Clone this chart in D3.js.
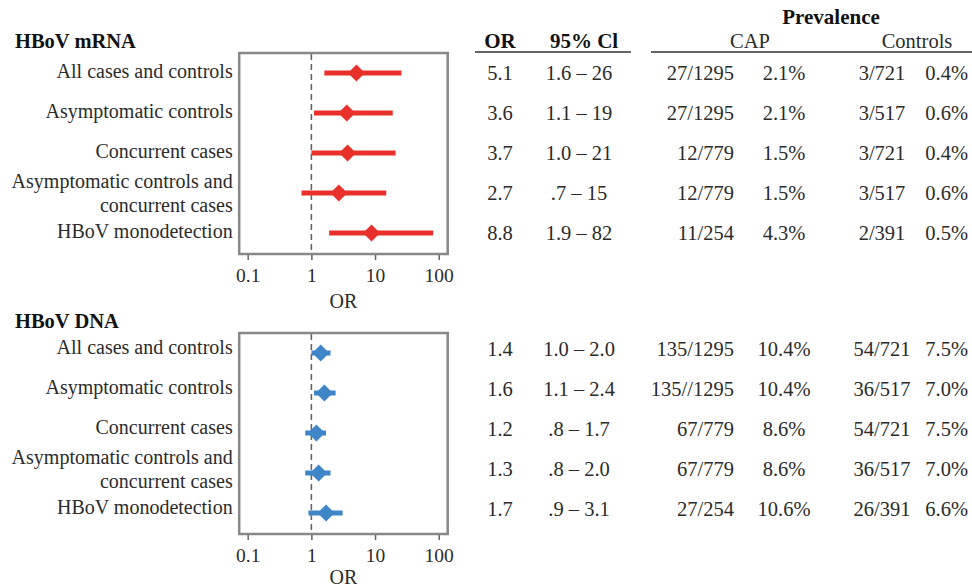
<!DOCTYPE html>
<html>
<head>
<meta charset="utf-8">
<script src="https://cdn.jsdelivr.net/npm/d3@7"></script>
<style>
body { margin: 0; background: #fff; }
text { font-family: "Liberation Serif", "Times New Roman", serif; fill: #2b2b2b; }
</style>
</head>
<body>
<svg id="chart" width="972" height="588"></svg>
<script>
// row labels (second entry = wrapped line)
var rowLabels = [
	["All cases and controls"],
	["Asymptomatic controls"],
	["Concurrent cases"],
	["Asymptomatic controls and", "concurrent cases"],
	["HBoV monodetection"]
];
var tickValues = [0.1, 1, 10, 100];

// HBoV mRNA
var mrnaOR = [5.1, 3.6, 3.7, 2.7, 8.8];
var mrnaLo = [1.6, 1.1, 1.0, 0.7, 1.9];
var mrnaHi = [26, 19, 21, 15, 82];
var mrnaORText = ["5.1", "3.6", "3.7", "2.7", "8.8"];
var mrnaCIText = ["1.6 – 26", "1.1 – 19", "1.0 – 21", ".7 – 15", "1.9 – 82"];
var mrnaCapCount = ["27/1295", "27/1295", "12/779", "12/779", "11/254"];
var mrnaCapPct = ["2.1%", "2.1%", "1.5%", "1.5%", "4.3%"];
var mrnaCtrlCount = ["3/721", "3/517", "3/721", "3/517", "2/391"];
var mrnaCtrlPct = ["0.4%", "0.6%", "0.4%", "0.6%", "0.5%"];

// HBoV DNA
var dnaOR = [1.4, 1.6, 1.2, 1.3, 1.7];
var dnaLo = [1.0, 1.1, 0.8, 0.8, 0.9];
var dnaHi = [2.0, 2.4, 1.7, 2.0, 3.1];
var dnaORText = ["1.4", "1.6", "1.2", "1.3", "1.7"];
var dnaCIText = ["1.0 – 2.0", "1.1 – 2.4", ".8 – 1.7", ".8 – 2.0", ".9 – 3.1"];
var dnaCapCount = ["135/1295", "135//1295", "67/779", "67/779", "27/254"];
var dnaCapPct = ["10.4%", "10.4%", "8.6%", "8.6%", "10.6%"];
var dnaCtrlCount = ["54/721", "36/517", "54/721", "36/517", "26/391"];
var dnaCtrlPct = ["7.5%", "7.0%", "7.5%", "7.0%", "6.6%"];

var svg = d3.select("#chart");

var x = d3.scaleLog().domain([0.1, 100]).range([247.7, 438.7]);
var boxH = 201;
var y = d3.scalePoint().domain(d3.range(5)).range([20, 180]);

// table column anchors
var colOR = 500, colCI = 579, colCapN = 734, colCapP = 784, colCtrlN = 882, colCtrlP = 968;

function drawPanel(top, title, color, or, lo, hi, orText, ciText, capN, capP, ctrlN, ctrlP, textShift, titleGap)
{
	var g = svg.append("g").attr("transform", "translate(0," + top + ")");

	g.append("text")
		.attr("x", 15).attr("y", -12)
		.attr("dy", "0.35em")
		.style("font-size", "20.5px").style("font-weight", "bold").style("fill", "#111")
		.text(title);

	var boxL = x(0.1) - 8.5, boxR = x(100) + 9;
	g.append("rect")
		.attr("x", boxL).attr("y", 0)
		.attr("width", boxR - boxL).attr("height", boxH)
		.style("fill", "none").style("stroke", "#888").style("stroke-width", 2.5);

	g.append("line")
		.attr("x1", x(1)).attr("x2", x(1))
		.attr("y1", 1).attr("y2", boxH - 1)
		.style("stroke", "#666").style("stroke-width", 1.6).style("stroke-dasharray", "6,4");

	var axis = g.append("g")
		.attr("transform", "translate(0," + (boxH + 1) + ")")
		.call(d3.axisBottom(x).tickValues(tickValues).tickFormat(function(d) { return d; }).tickSize(5).tickPadding(8));
	axis.select(".domain").remove();
	axis.selectAll(".tick line").style("stroke", "#666").style("stroke-width", 1.5);
	axis.selectAll(".tick text")
		.style("font-family", "'Liberation Serif', serif").style("font-size", "19.5px").style("fill", "#2b2b2b");

	g.append("text")
		.attr("x", (boxL + boxR) / 2).attr("y", boxH + titleGap)
		.attr("dy", "0.35em").attr("text-anchor", "middle")
		.style("font-size", "20px")
		.text("OR");

	var rows = d3.range(5);

	// labels
	var lab = g.selectAll(".rowlabel").data(rows).enter().append("text")
		.attr("class", "rowlabel")
		.attr("text-anchor", "end")
		.style("font-size", "20px");
	lab.each(function(i) {
		var lines = rowLabels[i];
		var t = d3.select(this);
		lines.forEach(function(s, k) {
			var yy = lines.length == 1 ? y(i) - 2 + textShift : y(i) - 12 + k * 24 + textShift;
			t.append("tspan").attr("x", 232.7).attr("y", yy).attr("dy", "0.35em").text(s);
		});
	});

	// CI lines
	g.selectAll(".ci").data(rows).enter().append("line")
		.attr("x1", function(i) { return x(lo[i]); })
		.attr("x2", function(i) { return x(hi[i]); })
		.attr("y1", function(i) { return y(i); })
		.attr("y2", function(i) { return y(i); })
		.style("stroke", color).style("stroke-width", 5);

	// diamonds
	g.selectAll(".pt").data(rows).enter().append("path")
		.attr("d", function(i) {
			var cx = x(or[i]), cy = y(i);
			return "M" + (cx - 8.5) + "," + cy + "L" + cx + "," + (cy - 8.5) + "L" + (cx + 8.5) + "," + cy + "L" + cx + "," + (cy + 8.5) + "Z";
		})
		.style("fill", color);

	// table
	var cols = [
		{ x: colOR, anchor: "middle", v: orText },
		{ x: colCI, anchor: "middle", v: ciText },
		{ x: colCapN, anchor: "end", v: capN },
		{ x: colCapP, anchor: "middle", v: capP },
		{ x: colCtrlN, anchor: "middle", v: ctrlN },
		{ x: colCtrlP, anchor: "end", v: ctrlP }
	];
	cols.forEach(function(c) {
		g.selectAll(null).data(rows).enter().append("text")
			.attr("x", c.x)
			.attr("y", function(i) { return y(i) + textShift; })
			.attr("dy", "0.35em")
			.attr("text-anchor", c.anchor)
			.style("font-size", "20.5px")
			.text(function(i) { return c.v[i]; });
	});
}

drawPanel(53, "HBoV mRNA", "#e8312a", mrnaOR, mrnaLo, mrnaHi, mrnaORText, mrnaCIText,
	mrnaCapCount, mrnaCapPct, mrnaCtrlCount, mrnaCtrlPct, 0, 47);
drawPanel(333, "HBoV DNA", "#3f86c8", dnaOR, dnaLo, dnaHi, dnaORText, dnaCIText,
	dnaCapCount, dnaCapPct, dnaCtrlCount, dnaCtrlPct, -4, 43);

// table header
var head = svg.append("g");
head.append("text").attr("x", 831).attr("y", 17).attr("dy", "0.35em").attr("text-anchor", "middle")
	.style("font-size", "21px").style("font-weight", "bold").style("fill", "#111").text("Prevalence");
head.append("text").attr("x", colOR).attr("y", 41).attr("dy", "0.35em").attr("text-anchor", "middle")
	.style("font-size", "21px").style("font-weight", "bold").style("fill", "#111").text("OR");
head.append("text").attr("x", 584).attr("y", 41).attr("dy", "0.35em").attr("text-anchor", "middle")
	.style("font-size", "21px").style("font-weight", "bold").style("fill", "#111").text("95% Cl");
head.append("text").attr("x", 750).attr("y", 41).attr("dy", "0.35em").attr("text-anchor", "middle")
	.style("font-size", "20.5px").text("CAP");
head.append("text").attr("x", 917).attr("y", 41).attr("dy", "0.35em").attr("text-anchor", "middle")
	.style("font-size", "20.5px").text("Controls");
head.append("line").attr("x1", 475).attr("x2", 631).attr("y1", 52).attr("y2", 52)
	.style("stroke", "#666").style("stroke-width", 2);
head.append("line").attr("x1", 651).attr("x2", 972).attr("y1", 52).attr("y2", 52)
	.style("stroke", "#666").style("stroke-width", 2);
</script>
</body>
</html>
